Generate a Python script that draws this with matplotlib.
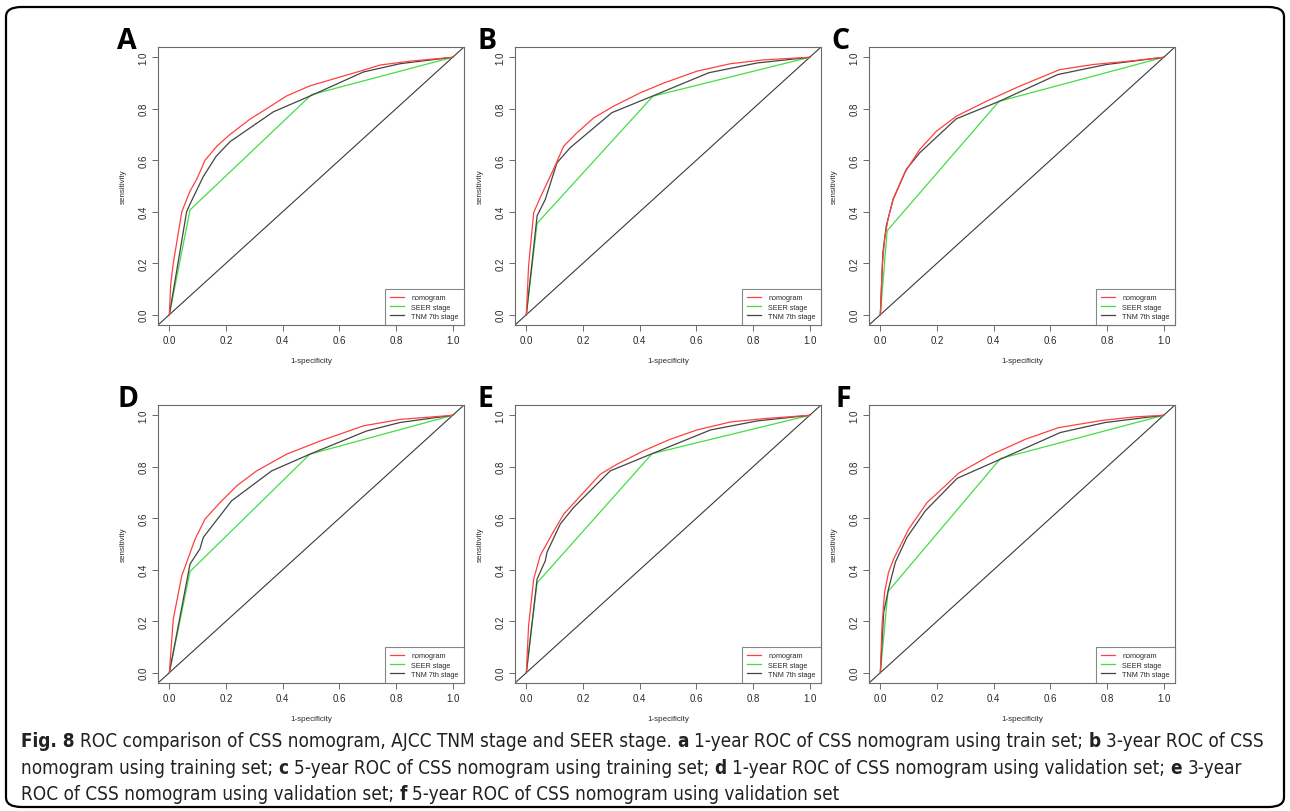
import matplotlib
matplotlib.use("Agg")
import matplotlib.pyplot as plt
from matplotlib.patches import FancyBboxPatch
from matplotlib import font_manager as fm

# ---------------- data ----------------
panel_letters = ["A", "B", "C", "D", "E", "F"]
series_names = ["nomogram", "SEER stage", "TNM 7th stage"]
x_ticks = [0.0, 0.2, 0.4, 0.6, 0.8, 1.0]
y_ticks = [0.0, 0.2, 0.4, 0.6, 0.8, 1.0]

# Panel A
nomo_A_x = [0, 0.005, 0.014, 0.044, 0.073, 0.097, 0.126, 0.168, 0.214, 0.285, 0.343, 0.414, 0.496, 0.53, 0.685, 0.744, 0.85, 1.0]
nomo_A_y = [0, 0.12, 0.2, 0.4, 0.48, 0.527, 0.6, 0.655, 0.7, 0.76, 0.8, 0.85, 0.889, 0.9, 0.95, 0.97, 0.985, 1.0]
seer_A_x = [0, 0.073, 0.502, 1.0]
seer_A_y = [0, 0.407, 0.855, 1.0]
tnm_A_x = [0, 0.061, 0.073, 0.12, 0.165, 0.214, 0.367, 0.508, 0.685, 0.814, 1.0]
tnm_A_y = [0, 0.4, 0.43, 0.537, 0.615, 0.672, 0.788, 0.855, 0.943, 0.975, 1.0]

# Panel B
nomo_B_x = [0, 0.008, 0.026, 0.049, 0.096, 0.132, 0.179, 0.238, 0.308, 0.402, 0.485, 0.602, 0.72, 0.838, 1.0]
nomo_B_y = [0, 0.19, 0.397, 0.455, 0.565, 0.655, 0.707, 0.765, 0.81, 0.862, 0.9, 0.946, 0.975, 0.99, 1.0]
seer_B_x = [0, 0.038, 0.447, 1.0]
seer_B_y = [0, 0.355, 0.849, 1.0]
tnm_B_x = [0, 0.038, 0.067, 0.108, 0.155, 0.302, 0.449, 0.644, 0.815, 1.0]
tnm_B_y = [0, 0.384, 0.448, 0.59, 0.649, 0.785, 0.851, 0.94, 0.978, 1.0]

# Panel C
nomo_C_x = [0, 0.007, 0.015, 0.027, 0.045, 0.086, 0.139, 0.198, 0.268, 0.374, 0.492, 0.633, 0.751, 0.868, 1.0]
nomo_C_y = [0, 0.19, 0.293, 0.371, 0.448, 0.552, 0.642, 0.713, 0.771, 0.829, 0.888, 0.952, 0.972, 0.984, 1.0]
seer_C_x = [0, 0.024, 0.419, 1.0]
seer_C_y = [0, 0.326, 0.829, 1.0]
tnm_C_x = [0, 0.009, 0.021, 0.045, 0.092, 0.139, 0.268, 0.42, 0.626, 0.798, 1.0]
tnm_C_y = [0, 0.242, 0.345, 0.448, 0.565, 0.629, 0.761, 0.829, 0.933, 0.972, 1.0]

# Panel D
nomo_D_x = [0, 0.014, 0.044, 0.091, 0.126, 0.179, 0.238, 0.308, 0.414, 0.532, 0.685, 0.814, 1.0]
nomo_D_y = [0, 0.209, 0.377, 0.519, 0.597, 0.661, 0.726, 0.784, 0.849, 0.9, 0.959, 0.984, 1.0]
seer_D_x = [0, 0.073, 0.496, 1.0]
seer_D_y = [0, 0.393, 0.849, 1.0]
tnm_D_x = [0, 0.073, 0.108, 0.12, 0.22, 0.361, 0.496, 0.696, 0.814, 1.0]
tnm_D_y = [0, 0.422, 0.481, 0.526, 0.668, 0.784, 0.849, 0.939, 0.972, 1.0]

# Panel E
nomo_E_x = [0, 0.008, 0.026, 0.049, 0.091, 0.132, 0.191, 0.261, 0.32, 0.414, 0.508, 0.602, 0.72, 0.838, 1.0]
nomo_E_y = [0, 0.183, 0.364, 0.455, 0.539, 0.616, 0.687, 0.771, 0.81, 0.862, 0.907, 0.943, 0.974, 0.987, 1.0]
seer_E_x = [0, 0.038, 0.444, 1.0]
seer_E_y = [0, 0.349, 0.851, 1.0]
tnm_E_x = [0, 0.038, 0.067, 0.073, 0.12, 0.167, 0.296, 0.444, 0.65, 0.814, 1.0]
tnm_E_y = [0, 0.364, 0.435, 0.468, 0.578, 0.642, 0.784, 0.851, 0.943, 0.978, 1.0]

# Panel F
nomo_F_x = [0, 0.006, 0.015, 0.029, 0.047, 0.1, 0.165, 0.229, 0.276, 0.394, 0.512, 0.629, 0.782, 0.9, 1.0]
nomo_F_y = [0, 0.183, 0.313, 0.39, 0.442, 0.558, 0.661, 0.726, 0.775, 0.848, 0.907, 0.952, 0.98, 0.994, 1.0]
seer_F_x = [0, 0.027, 0.424, 1.0]
seer_F_y = [0, 0.315, 0.832, 1.0]
tnm_F_x = [0, 0.012, 0.029, 0.053, 0.094, 0.159, 0.271, 0.429, 0.635, 0.794, 1.0]
tnm_F_y = [0, 0.235, 0.326, 0.429, 0.526, 0.629, 0.755, 0.832, 0.933, 0.972, 1.0]

caption_lines = [
    [("Fig. 8", True), ("ROC comparison of CSS nomogram, AJCC TNM stage and SEER stage.", False),
     ("a", True), ("1-year ROC of CSS nomogram using train set;", False),
     ("b", True), ("3-year ROC of CSS", False)],
    [("nomogram using training set;", False), ("c", True),
     ("5-year ROC of CSS nomogram using training set;", False), ("d", True),
     ("1-year ROC of CSS nomogram using validation set;", False), ("e", True), ("3-year", False)],
    [("ROC of CSS nomogram using validation set;", False), ("f", True),
     ("5-year ROC of CSS nomogram using validation set", False)],
]

panels = [
    (nomo_A_x, nomo_A_y, seer_A_x, seer_A_y, tnm_A_x, tnm_A_y),
    (nomo_B_x, nomo_B_y, seer_B_x, seer_B_y, tnm_B_x, tnm_B_y),
    (nomo_C_x, nomo_C_y, seer_C_x, seer_C_y, tnm_C_x, tnm_C_y),
    (nomo_D_x, nomo_D_y, seer_D_x, seer_D_y, tnm_D_x, tnm_D_y),
    (nomo_E_x, nomo_E_y, seer_E_x, seer_E_y, tnm_E_x, tnm_E_y),
    (nomo_F_x, nomo_F_y, seer_F_x, seer_F_y, tnm_F_x, tnm_F_y),
]

# ---------------- styling ----------------
W, H = 1290, 812
DPI = 100
plt.rcParams["font.family"] = ["Liberation Sans", "DejaVu Sans"]

fig = plt.figure(figsize=(W / DPI, H / DPI), dpi=DPI)
fig.patch.set_facecolor("white")

# rounded border
border = FancyBboxPatch((6 / W, 4 / H), (W - 12) / W, (H - 12) / H,
                        boxstyle="round,pad=0,rounding_size=0.012",
                        transform=fig.transFigure, fill=False,
                        edgecolor="black", linewidth=1.6, zorder=0)
fig.patches.append(border)

col_left = [158, 515, 869]
row_bottom = [326, 684]
ax_w, ax_h = 306, 278
letter_x = [117, 477, 831, 117, 477, 835]
letter_base = [49, 49, 49, 407, 407, 407]

colors = {"nomogram": "#ff4040", "SEER stage": "#44dd44", "TNM 7th stage": "#444444"}
frame_col = "#6a6a6a"
text_col = "#2a2a2a"

for i, (nx, ny, sx, sy, tx, ty) in enumerate(panels):
    r, c = divmod(i, 3)
    left = col_left[c]
    bottom = row_bottom[r]
    ax = fig.add_axes([left / W, 1 - bottom / H, ax_w / W, ax_h / H])
    ax.set_xlim(-0.04, 1.04)
    ax.set_ylim(-0.04, 1.04)
    ax.axline((0, 0), (1, 1), color="#3a3a3a", lw=0.8, zorder=1)
    ax.plot(nx, ny, color=colors["nomogram"], lw=0.9, label="nomogram", zorder=3)
    ax.plot(sx, sy, color=colors["SEER stage"], lw=0.9, label="SEER stage", zorder=2)
    ax.plot(tx, ty, color=colors["TNM 7th stage"], lw=0.9, label="TNM 7th stage", zorder=2.5)
    for sp in ax.spines.values():
        sp.set_color(frame_col)
        sp.set_linewidth(0.8)
    ax.set_xticks(x_ticks)
    ax.set_yticks(y_ticks)
    ax.set_xticklabels([f"{v:.1f}" for v in x_ticks])
    ax.set_yticklabels([f"{v:.1f}" for v in y_ticks], rotation=90, va="center")
    ax.tick_params(axis="both", direction="out", length=4.5, width=0.7, color=frame_col,
                   labelsize=7, labelcolor=text_col, pad=2.5)
    ax.set_xlabel("1-specificity", fontsize=5.8, color=text_col, labelpad=9)
    ax.set_ylabel("sensitivity", fontsize=5.8, color=text_col, labelpad=8)
    leg = ax.legend(loc="lower right", fontsize=5.2, frameon=True, fancybox=False,
                    borderaxespad=0, borderpad=0.75, labelspacing=0.28,
                    handlelength=1.9, handletextpad=1.0)
    leg.get_frame().set_edgecolor(frame_col)
    leg.get_frame().set_linewidth(0.8)
    for t in leg.get_texts():
        t.set_color(text_col)
    fig.text(letter_x[i] / W, 1 - letter_base[i] / H, panel_letters[i],
             fontsize=20.5, fontweight="bold", family=["Open Sans", "DejaVu Sans"],
             ha="left", va="baseline", color="black")

# ---------------- caption ----------------
def pick_caption_family():
    for fam, stretch in [("Liberation Sans Narrow", "normal"), ("DejaVu Sans", "condensed")]:
        try:
            p = fm.findfont(fm.FontProperties(family=fam, stretch=stretch), fallback_to_default=False)
            if fam == "DejaVu Sans" and "ondensed" not in p:
                continue
            return fam, stretch
        except Exception:
            continue
    return "Open Sans", "normal"

cap_fam, cap_stretch = pick_caption_family()
renderer = fig.canvas.get_renderer()

def seg_width(s, bold, size):
    t = fig.text(0, 0, s, fontsize=size, family=cap_fam, fontstretch=cap_stretch,
                 fontweight="bold" if bold else "normal")
    w = t.get_window_extent(renderer).width
    t.remove()
    return w

def line_width(segs, size):
    sp = seg_width("a a", False, size) - seg_width("aa", False, size)
    return sum(seg_width(s, b, size) for s, b in segs) + sp * (len(segs) - 1), sp

base = 12.0
w0, _ = line_width(caption_lines[0], base)
cap_size = base * (1268 - 21) / w0

cap_x0 = 21
cap_base = [747, 774, 800]
for li, segs in enumerate(caption_lines):
    _, spw = line_width(segs, cap_size)
    x = cap_x0
    for s, b in segs:
        t = fig.text(x / W, 1 - cap_base[li] / H, s, fontsize=cap_size, family=cap_fam,
                     fontstretch=cap_stretch, fontweight="bold" if b else "normal",
                     ha="left", va="baseline", color="#222222")
        x += t.get_window_extent(renderer).width + spw

fig.savefig("out.png", dpi=DPI, facecolor="white")
